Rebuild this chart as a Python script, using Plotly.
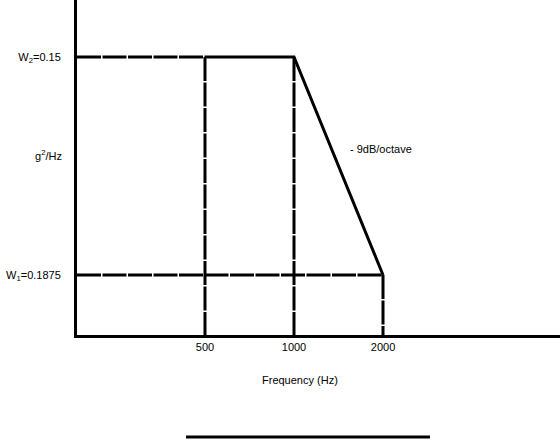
import plotly.graph_objects as go

# Data
freq_hz = [500, 1000, 2000]
psd_g2hz = [0.15, 0.15, 0.01875]
x_tick_vals = [500, 1000, 2000]
x_tick_text = ["500", "1000", "2000"]
y_tick_vals = [0.15, 0.01875]
y_tick_text = ["W<sub>2</sub>=0.15", "W<sub>1</sub>=0.1875"]
slope_label = "- 9dB/octave"
y_label = "g<sup>2</sup>/Hz"
x_label = "Frequency (Hz)"

x_range = [2.2661, 3.8996]
y_range = [-1.9756, -0.5878]
x_left = 10 ** x_range[0]
y_bottom = 10 ** y_range[0]

FONT = "Liberation Sans, Arial, sans-serif"
dash = "24px,1.5px"

fig = go.Figure()

# Dashed guide lines
guides = [
    ([x_left, freq_hz[0]], [psd_g2hz[0], psd_g2hz[0]]),
    ([x_left, freq_hz[2]], [psd_g2hz[2], psd_g2hz[2]]),
    ([freq_hz[0], freq_hz[0]], [psd_g2hz[0], y_bottom]),
    ([freq_hz[1], freq_hz[1]], [psd_g2hz[1], y_bottom]),
    ([freq_hz[2], freq_hz[2]], [psd_g2hz[2], y_bottom]),
]
for gx, gy in guides:
    fig.add_trace(go.Scatter(x=gx, y=gy, mode="lines",
                             line=dict(color="black", width=3, dash=dash),
                             hoverinfo="skip", showlegend=False))

# PSD profile
fig.add_trace(go.Scatter(x=freq_hz, y=psd_g2hz, mode="lines",
                         line=dict(color="black", width=3),
                         showlegend=False))

fig.update_layout(
    width=560, height=440,
    margin=dict(l=77, r=0, t=0, b=105),
    paper_bgcolor="white", plot_bgcolor="white",
    font=dict(family=FONT, size=11, color="black"),
    xaxis=dict(type="log", range=x_range, showgrid=False, zeroline=False,
               showline=True, linecolor="black", linewidth=3,
               tickvals=x_tick_vals, ticktext=x_tick_text, ticks="",
               ticklabelstandoff=0),
    yaxis=dict(type="log", range=y_range, showgrid=False, zeroline=False,
               showline=True, linecolor="black", linewidth=3,
               tickvals=y_tick_vals, ticktext=y_tick_text, ticks="",
               ticklabelstandoff=11),
    annotations=[
        dict(text=y_label, xref="paper", yref="paper", x=-0.060, y=0.537,
             xanchor="center", yanchor="middle", showarrow=False),
        dict(text=x_label, xref="paper", yref="paper", x=0.4617, y=-0.134,
             xanchor="center", yanchor="middle", showarrow=False),
        dict(text=slope_label, xref="paper", yref="paper", x=0.561, y=0.555,
             xanchor="left", yanchor="middle", showarrow=False),
    ],
    shapes=[
        dict(type="line", xref="paper", yref="paper", x0=0.2257, x1=0.7308,
             y0=-0.3045, y1=-0.3045, line=dict(color="black", width=3)),
    ],
)

fig.write_html("out.html",
               config={"displayModeBar": False},
               post_script="document.body.style.margin='0';"
                           "document.body.style.overflow='hidden';")
